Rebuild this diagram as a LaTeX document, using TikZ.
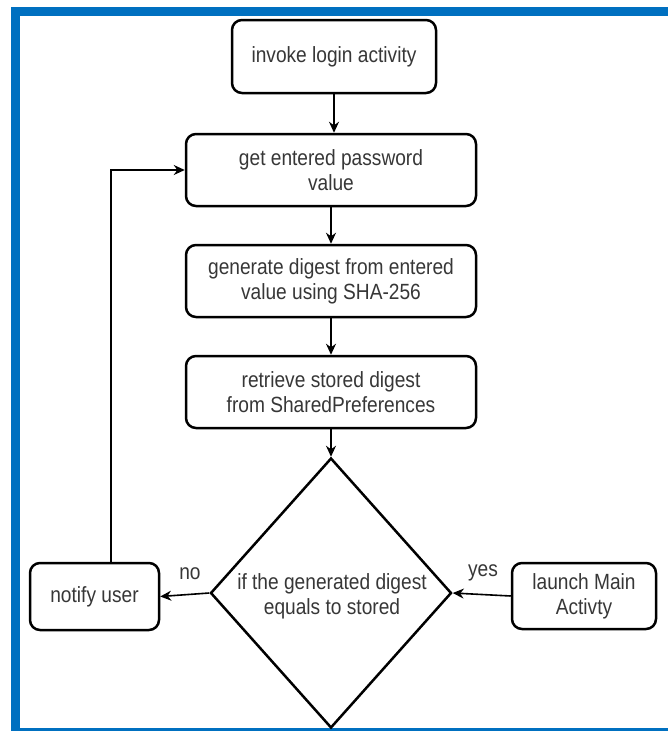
\documentclass[tikz,border=0pt]{standalone}
\usepackage{fontspec}
\setmainfont{Liberation Sans}[FakeStretch=0.87]
\usetikzlibrary{shapes.geometric,arrows.meta}
\definecolor{frameblue}{RGB}{0,112,192}
\definecolor{txtgray}{RGB}{55,55,55}
\begin{document}
\begin{tikzpicture}[x=1pt,y=-1pt,
  box/.style={draw=black, line width=2.5pt, rounded corners=10pt, fill=white,
    inner sep=0pt, align=center, text=txtgray,
    font=\fontsize{22}{25}\selectfont},
  lbl/.style={text=txtgray, font=\fontsize{22}{25}\selectfont, inner sep=0pt, align=center},
  link/.style={draw=black, line width=1.6pt, -{Stealth[length=11pt,width=10pt]}}]
\useasboundingbox (0,0) rectangle (667,731);
\fill[white] (0,0) rectangle (667,731);
% outer frame
\draw[frameblue, line width=8.5pt] (15.5,11.5) rectangle (690,732.5);

% process steps
\node[box, minimum width=204pt, minimum height=73pt] (invoke) at (334,56.5) {invoke login activity};
\node[box, minimum width=290pt, minimum height=72pt] (getpw) at (331,170) {get entered password\\value};
\node[box, minimum width=290pt, minimum height=72pt] (digest) at (331,281) {generate digest from entered\\value using SHA-256};
\node[box, minimum width=290pt, minimum height=72pt] (stored) at (331,392) {retrieve stored digest\\from SharedPreferences};

% decision
\node[diamond, draw=black, line width=2.5pt, minimum width=241pt, minimum height=270pt, inner sep=0pt] (check) at (331,593) {};
\node[lbl] (checktxt) at (332,596) {if the generated digest\\equals to stored};

% outcomes
\node[box, minimum width=129pt, minimum height=67pt] (notify) at (94.5,596.5) {notify user};
\node[box, minimum width=144pt, minimum height=66pt] (launch) at (584,596) {launch Main\\Activty};

% connectors
\draw[link] (invoke.south) -- (invoke.south |- getpw.north);
\draw[link] (getpw.south) -- (digest.north);
\draw[link] (digest.south) -- (stored.north);
\draw[link] (stored.south) -- (check.north);
\draw[link] (check.west) -- (notify.east);
\draw[link] (launch.west) -- (check.east);
\coordinate (loopx) at (111,0);
\draw[link] (loopx |- notify.north) -- (loopx |- getpw.west) -- (getpw.west);

% branch labels
\node[lbl] (nolbl) at (190,574) {no};
\node[lbl] (yeslbl) at (483,573) {yes};
\end{tikzpicture}
\end{document}
